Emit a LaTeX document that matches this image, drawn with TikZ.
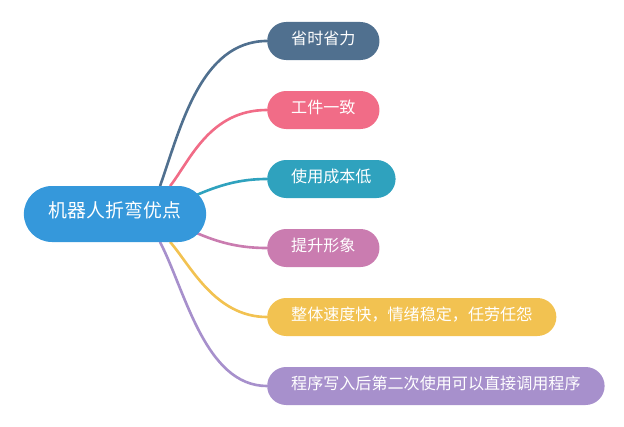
\documentclass[tikz,border=0pt]{standalone}
\usepackage{fontspec}
\newfontfamily\cjk{Noto Sans CJK SC}
\usetikzlibrary{positioning, backgrounds}

\definecolor{rootblue}{RGB}{53,152,219}
\definecolor{slateblue}{RGB}{80,112,143}
\definecolor{rosered}{RGB}{241,108,135}
\definecolor{tealblue}{RGB}{47,162,190}
\definecolor{orchid}{RGB}{202,124,176}
\definecolor{mustard}{RGB}{242,194,81}
\definecolor{lavender}{RGB}{167,144,204}

\begin{document}
\begin{tikzpicture}[
		x=0.4mm, y=-0.4mm,
		% central topic
		rootbox/.style={
				rectangle, rounded corners=11.2mm, fill=#1, text=white,
				minimum height=22.4mm, inner xsep=10mm, inner ysep=0pt,
				font=\cjk\fontsize{21.5}{24}\selectfont,
				text height=0.86em, text depth=0.14em
			},
		% branch topics
		leafbox/.style={
				rectangle, rounded corners=7.6mm, fill=#1, text=white,
				minimum height=15.2mm, inner xsep=9.6mm, inner ysep=0pt,
				font=\cjk\fontsize{18.3}{21}\selectfont, anchor=west,
				text height=0.86em, text depth=0.14em
			},
		% connectors
		branch/.style={draw=#1, line width=1.05mm, line cap=round}
	]

	\useasboundingbox (0,0) rectangle (624,427);

	% ==========================================
	% 1. NODES
	% ==========================================
	\node[rootbox=rootblue] (root) at (115,214) {机器人折弯优点};

	\node[leafbox=slateblue] (save)    at (267,41)  {省时省力};
	\node[leafbox=rosered]   (same)    at (267,110) {工件一致};
	\node[leafbox=tealblue]  (cost)    at (267,179) {使用成本低};
	\node[leafbox=orchid]    (image)   at (267,248) {提升形象};
	\node[leafbox=mustard]   (speed)   at (267,317) {整体速度快，情绪稳定，任劳任怨};
	\node[leafbox=lavender]  (program) at (267,386) {程序写入后第二次使用可以直接调用程序};

	% ==========================================
	% 2. BRANCHES (behind the nodes)
	% ==========================================
	\begin{scope}[on background layer]
		\draw[branch=slateblue] (root.32) .. controls +(20,-56) and +(-67,0) .. (save.west);
		\draw[branch=rosered] (root.27) .. controls +(20,-26) and +(-57,0) .. (same.west);
		\draw[branch=tealblue] ([shift={(-12,-18)}]root.east) .. controls +(25,-11) and +(-27,0) .. (cost.west);
		\draw[branch=orchid] ([shift={(-12,18)}]root.east) .. controls +(25,11) and +(-27,0) .. (image.west);
		\draw[branch=mustard] (root.-27) .. controls +(20,23) and +(-52,0) .. (speed.west);
		\draw[branch=lavender] (root.-32) .. controls +(25,48) and +(-62,0) .. (program.west);
	\end{scope}

\end{tikzpicture}
\end{document}
